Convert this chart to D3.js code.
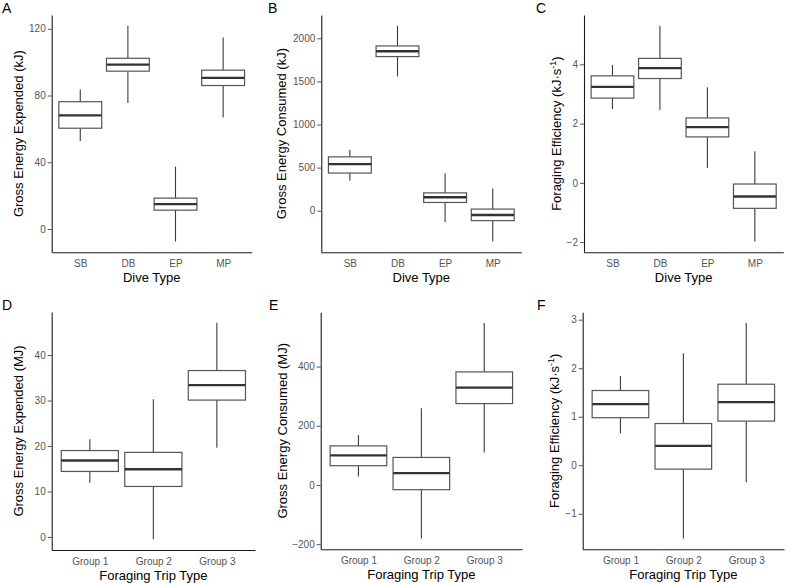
<!DOCTYPE html>
<html>
<head>
<meta charset="utf-8">
<script src="https://cdn.jsdelivr.net/npm/d3@7"></script>
<style>
  html, body { margin: 0; padding: 0; background: #fff; }
  svg { display: block; font-family: "Liberation Sans", Arial, Helvetica, sans-serif; }
</style>
</head>
<body>
<svg id="chart" width="787" height="583"></svg>
<script>
// ---------- DATA ----------
const diveTypes = ["SB", "DB", "EP", "MP"];
const tripTypes = ["Group 1", "Group 2", "Group 3"];

// Panel A: Gross Energy Expended (kJ) by dive type
const aLow = [52.8, 75.5, -7.5, 66.8];
const aQ1  = [60.4, 94.6, 11.3, 86.0];
const aMed = [68.1, 98.5, 14.9, 90.6];
const aQ3  = [76.3, 102.3, 18.5, 95.2];
const aHigh= [83.6, 121.8, 37.4, 114.8];
const aTicks = [0, 40, 80, 120];

// Panel B: Gross Energy Consumed (kJ) by dive type
const bLow = [349, 1558, -130, -357];
const bQ1  = [437, 1788, 96, -115];
const bMed = [541, 1850, 157, -50];
const bQ3  = [625, 1911, 207, 19];
const bHigh= [706, 2145, 434, 257];
const bTicks = [0, 500, 1000, 1500, 2000];

// Panel C: Foraging Efficiency (kJ/s) by dive type
const cLow = [2.49, 2.46, 0.51, -1.98];
const cQ1  = [2.86, 3.52, 1.55, -0.86];
const cMed = [3.24, 3.87, 1.88, -0.46];
const cQ3  = [3.61, 4.20, 2.19, -0.04];
const cHigh= [3.98, 5.30, 3.23, 1.07];
const cTicks = [-2, 0, 2, 4];

// Panel D: Gross Energy Expended (MJ) by foraging trip type
const dLow = [11.9, -0.5, 19.6];
const dQ1  = [14.4, 11.1, 30.1];
const dMed = [16.8, 14.9, 33.4];
const dQ3  = [19.0, 18.6, 36.6];
const dHigh= [21.5, 30.3, 47.1];
const dTicks = [0, 10, 20, 30, 40];

// Panel E: Gross Energy Consumed (MJ) by foraging trip type
const eLow = [29, -181, 110];
const eQ1  = [65, -16, 275];
const eMed = [100, 40, 329];
const eQ3  = [132, 93, 382];
const eHigh= [169, 259, 547];
const eTicks = [-200, 0, 200, 400];

// Panel F: Foraging Efficiency (kJ/s) by foraging trip type
const fLow = [0.66, -1.51, -0.35];
const fQ1  = [0.98, -0.08, 0.91];
const fMed = [1.26, 0.40, 1.30];
const fQ3  = [1.54, 0.86, 1.67];
const fHigh= [1.84, 2.31, 2.93];
const fTicks = [-1, 0, 1, 2, 3];

const panelLetters = ["A", "B", "C", "D", "E", "F"];
const yTitles = [
  "Gross Energy Expended (kJ)",
  "Gross Energy Consumed (kJ)",
  "EFF",
  "Gross Energy Expended (MJ)",
  "Gross Energy Consumed (MJ)",
  "EFF"
];
const xTitles = ["Dive Type", "Dive Type", "Dive Type",
                 "Foraging Trip Type", "Foraging Trip Type", "Foraging Trip Type"];

// ---------- LAYOUT (positions only) ----------
const layout = [
  { l: 51.7,  r: 251.7, t: 15,    b: 252.3, ytx: 22.6,  lx: 2,   ly: 13 },
  { l: 321.3, r: 521.3, t: 15,    b: 252.3, ytx: 286.3, lx: 268, ly: 13 },
  { l: 584,   r: 783.3, t: 15,    b: 252.3, ytx: 560.6, lx: 536, ly: 13 },
  { l: 51.7,  r: 255,   t: 312,   b: 550,   ytx: 22.6,  lx: 2,   ly: 310 },
  { l: 320.7, r: 522,   t: 312.3, b: 549.3, ytx: 287.3, lx: 269, ly: 310 },
  { l: 582.7, r: 784,   t: 312.3, b: 549.3, ytx: 559.3, lx: 537, ly: 310 }
];

const panels = [
  { cats: diveTypes, low: aLow, q1: aQ1, med: aMed, q3: aQ3, high: aHigh, ticks: aTicks },
  { cats: diveTypes, low: bLow, q1: bQ1, med: bMed, q3: bQ3, high: bHigh, ticks: bTicks },
  { cats: diveTypes, low: cLow, q1: cQ1, med: cMed, q3: cQ3, high: cHigh, ticks: cTicks },
  { cats: tripTypes, low: dLow, q1: dQ1, med: dMed, q3: dQ3, high: dHigh, ticks: dTicks },
  { cats: tripTypes, low: eLow, q1: eQ1, med: eMed, q3: eQ3, high: eHigh, ticks: eTicks },
  { cats: tripTypes, low: fLow, q1: fQ1, med: fMed, q3: fQ3, high: fHigh, ticks: fTicks }
];

// ---------- DRAW ----------
const svg = d3.select("#chart");

panels.forEach((p, i) => {
  const L = layout[i];
  const g = svg.append("g");

  // y domain like ggplot: whisker extent expanded by 5%
  const lo = d3.min(p.low), hi = d3.max(p.high);
  const pad = (hi - lo) * 0.05;
  const y = d3.scaleLinear().domain([lo - pad, hi + pad]).range([L.b, L.t]);
  const x = d3.scalePoint().domain(p.cats).range([L.l, L.r]).padding(0.6);
  const bw = x.step() * 0.9;

  const rows = p.cats.map((c, k) => ({
    cat: c, low: p.low[k], q1: p.q1[k], med: p.med[k], q3: p.q3[k], high: p.high[k]
  }));

  const box = g.selectAll("g.box").data(rows).join("g").attr("class", "box");
  // whiskers
  box.append("line")
    .attr("x1", d => x(d.cat)).attr("x2", d => x(d.cat))
    .attr("y1", d => y(d.high)).attr("y2", d => y(d.q3))
    .attr("stroke", "#3a3a3a").attr("stroke-width", 1.1);
  box.append("line")
    .attr("x1", d => x(d.cat)).attr("x2", d => x(d.cat))
    .attr("y1", d => y(d.q1)).attr("y2", d => y(d.low))
    .attr("stroke", "#3a3a3a").attr("stroke-width", 1.1);
  // box
  box.append("rect")
    .attr("x", d => x(d.cat) - bw / 2).attr("width", bw)
    .attr("y", d => y(d.q3)).attr("height", d => y(d.q1) - y(d.q3))
    .attr("fill", "#fff").attr("stroke", "#555").attr("stroke-width", 1.2);
  // median
  box.append("line")
    .attr("x1", d => x(d.cat) - bw / 2).attr("x2", d => x(d.cat) + bw / 2)
    .attr("y1", d => y(d.med)).attr("y2", d => y(d.med))
    .attr("stroke", "#333").attr("stroke-width", 2.4);

  // y axis
  const ya = g.append("g").attr("transform", `translate(${L.l},0)`)
    .call(d3.axisLeft(y).tickValues(p.ticks).tickSize(4).tickPadding(2).tickSizeOuter(0)
      .tickFormat(d3.format("d")));
  ya.select(".domain").attr("stroke", "#1a1a1a").attr("stroke-width", 1.1);
  ya.selectAll(".tick line").attr("stroke", "#555").attr("stroke-width", 1);
  ya.selectAll(".tick text").attr("fill", "#555").attr("font-size", 10)
    .attr("font-family", "Liberation Sans, Arial, sans-serif");

  // x axis
  const xa = g.append("g").attr("transform", `translate(0,${L.b})`)
    .call(d3.axisBottom(x).tickSize(0).tickPadding(7.4).tickSizeOuter(0));
  xa.select(".domain").attr("stroke", "#1a1a1a").attr("stroke-width", 1.1);
  xa.selectAll(".tick text").attr("fill", "#555").attr("font-size", 10)
    .attr("font-family", "Liberation Sans, Arial, sans-serif");

  // x title
  g.append("text")
    .attr("x", (L.l + L.r) / 2).attr("y", L.b + 29.5)
    .attr("text-anchor", "middle").attr("font-size", 13).attr("fill", "#000")
    .text(xTitles[i]);

  // y title
  const yt = g.append("text")
    .attr("transform", `translate(${L.ytx},${(L.t + L.b) / 2}) rotate(-90)`)
    .attr("text-anchor", "middle").attr("font-size", 13).attr("fill", "#000");
  if (yTitles[i] === "EFF") {
    yt.append("tspan").text("Foraging Efficiency (kJ\u00B7s");
    yt.append("tspan").attr("dy", -5).attr("font-size", 9).text("-1");
    yt.append("tspan").attr("dy", 5).text(")");
  } else {
    yt.text(yTitles[i]);
  }

  // panel letter
  g.append("text")
    .attr("x", L.lx).attr("y", L.ly)
    .attr("font-size", 14).attr("fill", "#000")
    .text(panelLetters[i]);
});
</script>
</body>
</html>
